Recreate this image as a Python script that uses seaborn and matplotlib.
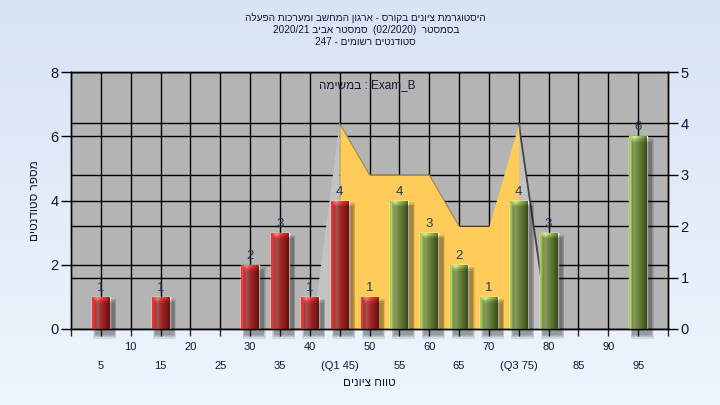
import numpy as np
import pandas as pd
import matplotlib
matplotlib.use('Agg')
import matplotlib.pyplot as plt
import seaborn as sns
from matplotlib.colors import LinearSegmentedColormap
from matplotlib.patches import Polygon, Rectangle
from matplotlib.transforms import blended_transform_factory

# ---- data ----
scores = [5, 15, 30, 35, 40, 45, 50, 55, 60, 65, 70, 75, 80, 95]
counts = [1, 1, 2, 3, 1, 4, 1, 4, 3, 2, 1, 4, 3, 6]
groups = ['low'] * 7 + ['high'] * 7

# quartile range area (right axis)
area_x = [45, 50, 55, 60, 65, 70, 75]
area_y = [4, 3, 3, 3, 2, 2, 4]

tick_row1 = [10, 20, 30, 40, 50, 60, 70, 80, 90]
tick_row2 = [5, 15, 25, 35, 45, 55, 65, 75, 85, 95]
row2_labels = ['5', '15', '25', '35', '(Q1 45)', '55', '65', '(Q3 75)', '85', '95']

# matplotlib has no bidi: hebrew runs are written in visual order
def heb(s):
    return s[::-1]

title_lines = [heb('היסטוגרמת ציונים בקורס - ארגון המחשב ומערכות הפעלה'),
               '2020/21 ' + heb('סמסטר אביב') + '  (02/2020)  ' + heb('בסמסטר'),
               '247 - ' + heb('סטודנטים רשומים')]
legend_txt = heb('במשימה') + ' : Exam_B'
xlabel = heb('טווח ציונים')
ylabel = heb('מספר סטודנטים')

sns.set_style('white')
plt.rcParams['font.family'] = ['Liberation Sans', 'DejaVu Sans']
txt_col = '#14143a'

fig = plt.figure(figsize=(7.2, 4.05), dpi=100)

# light blue gradient background
bg = fig.add_axes([0, 0, 1, 1], zorder=-10)
grad = np.linspace(0, 1, 256).reshape(-1, 1)
bg.imshow(grad, aspect='auto', extent=[0, 1, 0, 1],
          cmap=LinearSegmentedColormap.from_list('bg', ['#d8e3f4', '#eef5fd']))
bg.axis('off')

ax = fig.add_axes([71 / 720, 1 - 329 / 405, 597 / 720, 257 / 405])
ax2 = ax.twinx()
ax.set_zorder(ax2.get_zorder() + 1)
ax.patch.set_visible(False)
ax2.patch.set_visible(True)
ax2.patch.set_facecolor('#b4b4b4')

df = pd.DataFrame({'score': scores, 'count': counts, 'grp': groups})
sns.barplot(data=df, x='score', y='count', hue='grp', native_scale=True,
            palette={'low': '#e82020', 'high': '#8db842'}, width=0.6,
            dodge=False, legend=False, errorbar=None, ax=ax)

ax.set_xlim(0, 100)
ax.set_ylim(0, 8)
ax2.set_ylim(0, 5)

# grid lines live on the back axes, under the yellow area
ax2.set_axisbelow(True)
ax2.grid(axis='y', color='black', lw=1.0)
for xv in range(5, 100, 5):
    ax2.axvline(xv, color='black', lw=1.0, zorder=0.5)
tr = blended_transform_factory(ax2.transAxes, ax.transData)
for yv in [2, 4, 6]:
    ax2.plot([0, 1], [yv, yv], color='black', lw=1.0, transform=tr, zorder=0.5)

# yellow quartile area with its side faces
ax2.fill_between(area_x, area_y, color='#ffcc5a', lw=0, zorder=2)
ax2.plot(area_x[:3], area_y[:3], color='#9a8450', lw=0.8, zorder=2.1)
ax2.plot(area_x[3:5], area_y[3:5], color='#9a8450', lw=0.8, zorder=2.1)
ax2.add_patch(Polygon([(area_x[0], area_y[0]), (area_x[0] - 4.5, 0), (area_x[0], 0)],
                      closed=True, fc='#c2c2c2', ec='none', zorder=1.8))
ax2.add_patch(Polygon([(area_x[-1], area_y[-1]), (area_x[-1], 0), (area_x[-1] + 5, 0)],
                      closed=True, fc='#c2c2c2', ec='none', zorder=1.8))
ax2.plot([area_x[-1], area_x[-1] + 5], [area_y[-1], 0], color='#444444', lw=1.3, zorder=1.9)

# cylinder shading + drop shadow on each bar
cm_red = LinearSegmentedColormap.from_list(
    'r', [(0, '#ff2424'), (0.3, '#ff8282'), (0.55, '#fb3c3c'), (0.8, '#d42828'), (1, '#961b1b')])
cm_grn = LinearSegmentedColormap.from_list(
    'g', [(0, '#a2cc50'), (0.3, '#d4f09c'), (0.55, '#a2c858'), (0.8, '#7e9e42'), (1, '#5a722e')])
row = np.linspace(0, 1, 64).reshape(1, -1)
for p in ax.patches:
    h = p.get_height()
    if h <= 0:
        continue
    x0, w = p.get_x(), p.get_width()
    red = x0 + w / 2 <= 52
    for k in range(4):
        ax.add_patch(Rectangle((x0 + 0.55 - 0.1 * k, -0.18 - 0.04 * k), w + 0.25 + 0.2 * k,
                               h + 0.08 * k, fc='black', ec='none', alpha=0.1,
                               zorder=1.5, clip_on=False))
    im = ax.imshow(row, extent=[x0, x0 + w, 0, h], aspect='auto',
                   cmap=cm_red if red else cm_grn, zorder=p.get_zorder() + 0.1)
    im.set_clip_path(p)

for c in ax.containers:
    ax.bar_label(c, padding=2, fontsize=9.5, color='#243a5c')

ax.set_xlim(0, 100)
ax.set_ylim(0, 8)

# axes, ticks and labels
for s in list(ax.spines.values()) + list(ax2.spines.values()):
    s.set_color('black')
    s.set_linewidth(1.0)

ax.set_yticks([0, 2, 4, 6, 8])
ax.tick_params(axis='y', direction='out', length=7, width=1, pad=2,
               labelsize=10.5, colors='black', labelcolor=txt_col, left=True)
ax2.set_yticks([0, 1, 2, 3, 4, 5])
ax2.tick_params(axis='y', direction='out', length=7, width=1, pad=2,
                labelsize=10.5, colors='black', labelcolor=txt_col, right=True)

ax.set_xticks(tick_row2)
ax.set_xticklabels(row2_labels)
ax.set_xticks([0] + tick_row1 + [100], minor=True)
ax.set_xticklabels([''] + [str(v) for v in tick_row1] + [''], minor=True)
ax.tick_params(axis='x', which='major', direction='out', length=5, width=1,
               pad=18, labelsize=8, labelcolor=txt_col, bottom=True)
ax.tick_params(axis='x', which='minor', direction='out', length=5, width=1,
               pad=4, labelsize=8, labelcolor=txt_col, bottom=True)

ax.set_xlabel(xlabel, fontsize=8.5, color=txt_col, labelpad=4)
ax.set_ylabel(ylabel, fontsize=8.5, color=txt_col, labelpad=7)
ax2.set_ylabel('')

ax.text(0.496, 0.95, legend_txt, transform=ax.transAxes, ha='center', va='center',
        fontsize=8.5, color='#221133')

fig.text(0.508, 0.968, '\n'.join(title_lines), ha='center', va='top',
         multialignment='center', fontsize=7.2, color=txt_col, linespacing=1.25)

fig.savefig('out.png', dpi=100)
